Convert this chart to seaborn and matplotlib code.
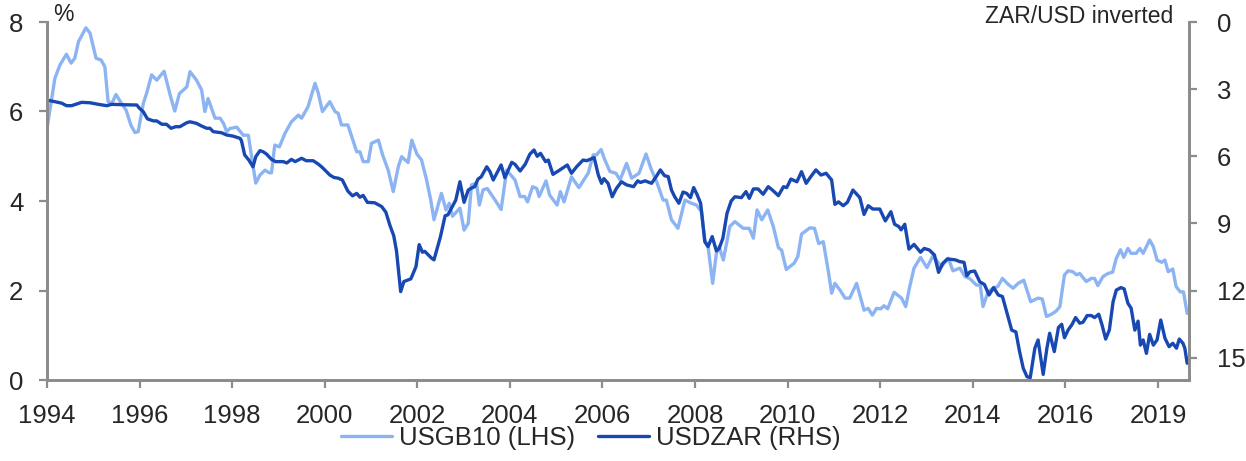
import matplotlib
matplotlib.use("Agg")
import matplotlib.pyplot as plt
import seaborn as sns
import pandas as pd

# US 10-year Treasury yield, % (left axis)
gb_year = [1994.00, 1994.17, 1994.28, 1994.42, 1994.52, 1994.60, 1994.68, 1994.84, 1994.93, 1995.06,
           1995.17, 1995.25, 1995.32, 1995.40, 1995.49, 1995.61, 1995.71, 1995.81, 1995.90, 1995.97,
           1996.08, 1996.15, 1996.26, 1996.37, 1996.53, 1996.66, 1996.76, 1996.86, 1997.02, 1997.09,
           1997.23, 1997.34, 1997.41, 1997.48, 1997.63, 1997.74, 1997.82, 1997.88, 1997.95, 1998.10,
           1998.24, 1998.35, 1998.42, 1998.51, 1998.60, 1998.71, 1998.80, 1998.85, 1998.92, 1999.02,
           1999.14, 1999.28, 1999.43, 1999.50, 1999.64, 1999.79, 1999.86, 1999.95, 2000.11, 2000.22,
           2000.29, 2000.36, 2000.50, 2000.69, 2000.76, 2000.83, 2000.94, 2001.01, 2001.16, 2001.25,
           2001.37, 2001.48, 2001.59, 2001.66, 2001.80, 2001.88, 2001.99, 2002.09, 2002.20, 2002.29,
           2002.36, 2002.52, 2002.62, 2002.69, 2002.76, 2002.92, 2003.01, 2003.10, 2003.17, 2003.28,
           2003.34, 2003.42, 2003.51, 2003.68, 2003.81, 2003.93, 2004.11, 2004.22, 2004.32, 2004.38,
           2004.49, 2004.58, 2004.63, 2004.78, 2004.86, 2005.02, 2005.09, 2005.17, 2005.33, 2005.49,
           2005.62, 2005.69, 2005.80, 2005.87, 2005.97, 2006.05, 2006.16, 2006.29, 2006.38, 2006.52,
           2006.63, 2006.79, 2006.94, 2007.06, 2007.17, 2007.31, 2007.38, 2007.49, 2007.63, 2007.78,
           2007.92, 2008.03, 2008.14, 2008.21, 2008.28, 2008.38, 2008.46, 2008.52, 2008.61, 2008.75,
           2008.86, 2009.04, 2009.17, 2009.26, 2009.34, 2009.44, 2009.57, 2009.69, 2009.80, 2009.87,
           2009.97, 2010.14, 2010.22, 2010.30, 2010.48, 2010.58, 2010.67, 2010.77, 2010.88, 2010.95,
           2011.02, 2011.13, 2011.24, 2011.34, 2011.49, 2011.56, 2011.65, 2011.74, 2011.83, 2011.92,
           2012.01, 2012.08, 2012.16, 2012.30, 2012.46, 2012.55, 2012.64, 2012.73, 2012.87, 2013.01,
           2013.13, 2013.21, 2013.32, 2013.47, 2013.57, 2013.72, 2013.83, 2013.93, 2014.08, 2014.16,
           2014.22, 2014.33, 2014.43, 2014.54, 2014.64, 2014.74, 2014.87, 2014.98, 2015.10, 2015.25,
           2015.41, 2015.50, 2015.59, 2015.70, 2015.80, 2015.88, 2015.98, 2016.06, 2016.16, 2016.24,
           2016.31, 2016.45, 2016.56, 2016.63, 2016.70, 2016.81, 2016.92, 2017.02, 2017.10, 2017.19,
           2017.26, 2017.35, 2017.42, 2017.53, 2017.61, 2017.68, 2017.82, 2017.90, 2017.98, 2018.08,
           2018.15, 2018.22, 2018.32, 2018.39, 2018.48, 2018.55, 2018.63]
gb_val = [5.62, 6.74, 7.04, 7.28, 7.08, 7.19, 7.56, 7.87, 7.75, 7.19,
          7.15, 7.00, 6.22, 6.18, 6.38, 6.18, 6.03, 5.70, 5.53, 5.55,
          6.18, 6.40, 6.82, 6.70, 6.90, 6.37, 6.01, 6.40, 6.55, 6.89,
          6.70, 6.48, 6.00, 6.29, 5.85, 5.85, 5.72, 5.55, 5.62, 5.65,
          5.47, 5.47, 4.99, 4.40, 4.58, 4.69, 4.63, 4.63, 5.25, 5.21,
          5.51, 5.77, 5.92, 5.85, 6.11, 6.63, 6.41, 6.00, 6.22, 6.00,
          5.96, 5.70, 5.70, 5.10, 5.10, 4.88, 4.88, 5.29, 5.36, 5.03,
          4.69, 4.21, 4.77, 4.99, 4.86, 5.36, 5.05, 4.92, 4.47, 4.02,
          3.58, 4.17, 3.80, 3.95, 3.66, 3.84, 3.35, 3.50, 4.36, 4.40,
          3.91, 4.25, 4.28, 4.02, 3.81, 4.69, 4.47, 4.10, 4.10, 3.98,
          4.32, 4.28, 4.10, 4.45, 4.13, 3.91, 4.21, 3.98, 4.54, 4.30,
          4.51, 4.62, 5.03, 5.03, 5.15, 4.92, 4.66, 4.62, 4.47, 4.84,
          4.51, 4.62, 5.05, 4.69, 4.43, 4.02, 4.02, 3.58, 3.39, 4.02,
          3.95, 3.91, 3.76, 3.13, 2.98, 2.16, 2.83, 2.98, 2.68, 3.43,
          3.54, 3.39, 3.39, 3.17, 3.80, 3.58, 3.80, 3.43, 2.96, 2.90,
          2.47, 2.61, 2.76, 3.26, 3.40, 3.39, 3.05, 3.09, 2.42, 1.94,
          2.16, 2.01, 1.83, 1.83, 2.16, 1.90, 1.56, 1.60, 1.45, 1.60,
          1.59, 1.66, 1.59, 1.96, 1.83, 1.64, 2.10, 2.50, 2.74, 2.51,
          2.76, 2.68, 2.53, 2.72, 2.44, 2.50, 2.31, 2.27, 2.12, 2.12,
          1.64, 1.97, 2.05, 2.09, 2.27, 2.16, 2.05, 2.16, 2.23, 1.75,
          1.83, 1.81, 1.42, 1.47, 1.54, 1.64, 2.35, 2.44, 2.42, 2.35,
          2.38, 2.20, 2.27, 2.27, 2.11, 2.31, 2.38, 2.41, 2.72, 2.91,
          2.74, 2.94, 2.83, 2.83, 2.94, 2.83, 3.13, 2.98, 2.68, 2.63,
          2.68, 2.42, 2.48, 2.09, 1.97, 1.97, 1.49]

# USD/ZAR exchange rate (right axis, inverted)
zar_year = [1994.00, 1994.17, 1994.32, 1994.42, 1994.53, 1994.75, 1994.93, 1995.11, 1995.29, 1995.40,
            1995.70, 1995.94, 1996.00, 1996.08, 1996.17, 1996.30, 1996.37, 1996.48, 1996.58, 1996.68,
            1996.78, 1996.87, 1997.02, 1997.09, 1997.23, 1997.34, 1997.45, 1997.52, 1997.59, 1997.77,
            1997.88, 1998.02, 1998.17, 1998.20, 1998.27, 1998.36, 1998.45, 1998.51, 1998.60, 1998.67,
            1998.74, 1998.85, 1998.94, 1999.10, 1999.18, 1999.28, 1999.36, 1999.50, 1999.60, 1999.75,
            1999.86, 1999.93, 2000.00, 2000.11, 2000.20, 2000.29, 2000.38, 2000.50, 2000.60, 2000.69,
            2000.76, 2000.83, 2000.92, 2001.08, 2001.23, 2001.32, 2001.41, 2001.49, 2001.55, 2001.60,
            2001.64, 2001.71, 2001.86, 2001.97, 2002.04, 2002.11, 2002.16, 2002.31, 2002.36, 2002.50,
            2002.60, 2002.66, 2002.83, 2002.92, 2003.01, 2003.10, 2003.17, 2003.24, 2003.31, 2003.38,
            2003.50, 2003.57, 2003.64, 2003.81, 2003.89, 2004.04, 2004.11, 2004.22, 2004.33, 2004.43,
            2004.52, 2004.59, 2004.66, 2004.77, 2004.83, 2004.93, 2005.08, 2005.24, 2005.33, 2005.44,
            2005.58, 2005.66, 2005.82, 2005.91, 2005.98, 2006.03, 2006.12, 2006.21, 2006.30, 2006.41,
            2006.52, 2006.67, 2006.76, 2006.82, 2006.92, 2007.06, 2007.16, 2007.25, 2007.34, 2007.42,
            2007.49, 2007.56, 2007.65, 2007.74, 2007.82, 2007.90, 2007.97, 2008.04, 2008.12, 2008.21,
            2008.28, 2008.37, 2008.46, 2008.52, 2008.60, 2008.69, 2008.78, 2008.86, 2009.00, 2009.10,
            2009.17, 2009.26, 2009.36, 2009.47, 2009.58, 2009.67, 2009.80, 2009.91, 2009.98, 2010.07,
            2010.20, 2010.30, 2010.40, 2010.50, 2010.61, 2010.72, 2010.83, 2010.95, 2011.02, 2011.10,
            2011.20, 2011.29, 2011.41, 2011.56, 2011.65, 2011.74, 2011.84, 2011.99, 2012.11, 2012.23,
            2012.31, 2012.40, 2012.45, 2012.53, 2012.62, 2012.73, 2012.87, 2012.95, 2013.06, 2013.17,
            2013.26, 2013.35, 2013.45, 2013.62, 2013.72, 2013.81, 2013.87, 2013.94, 2014.04, 2014.15,
            2014.25, 2014.35, 2014.45, 2014.55, 2014.64, 2014.74, 2014.84, 2014.93, 2015.01, 2015.09,
            2015.17, 2015.24, 2015.34, 2015.41, 2015.52, 2015.60, 2015.66, 2015.76, 2015.85, 2015.92,
            2015.98, 2016.06, 2016.14, 2016.22, 2016.31, 2016.38, 2016.47, 2016.56, 2016.63, 2016.72,
            2016.79, 2016.87, 2016.95, 2017.03, 2017.10, 2017.20, 2017.27, 2017.35, 2017.42, 2017.50,
            2017.57, 2017.62, 2017.68, 2017.75, 2017.82, 2017.90, 2017.98, 2018.06, 2018.15, 2018.24,
            2018.32, 2018.40, 2018.46, 2018.54, 2018.58, 2018.63]
zar_val = [3.49, 3.56, 3.63, 3.74, 3.74, 3.59, 3.61, 3.68, 3.74, 3.68,
           3.70, 3.71, 3.86, 4.01, 4.33, 4.42, 4.42, 4.57, 4.57, 4.75,
           4.68, 4.68, 4.50, 4.46, 4.53, 4.65, 4.75, 4.75, 4.90, 4.95,
           5.05, 5.10, 5.20, 5.30, 5.94, 6.17, 6.47, 6.02, 5.75, 5.80,
           5.90, 6.14, 6.24, 6.24, 6.30, 6.14, 6.24, 6.09, 6.20, 6.20,
           6.35, 6.47, 6.61, 6.84, 6.95, 6.98, 7.06, 7.56, 7.77, 7.66,
           7.83, 7.75, 8.06, 8.08, 8.25, 8.50, 9.10, 9.55, 10.23, 11.23,
           12.05, 11.60, 11.48, 10.94, 9.95, 10.29, 10.25, 10.56, 10.63, 9.59,
           8.66, 8.62, 7.96, 7.14, 8.06, 7.51, 7.42, 7.36, 7.02, 6.92,
           6.47, 6.69, 7.06, 6.39, 6.96, 6.27, 6.36, 6.66, 6.36, 5.91,
           5.72, 6.00, 5.87, 6.24, 6.17, 6.81, 6.61, 6.39, 6.76, 6.47,
           6.17, 6.20, 6.06, 6.84, 7.21, 7.00, 7.21, 7.81, 7.44, 7.14,
           7.28, 7.36, 7.10, 7.17, 7.10, 7.21, 6.91, 6.61, 6.87, 6.91,
           7.51, 7.81, 8.10, 7.60, 7.66, 7.85, 7.40, 7.70, 8.10, 9.82,
           10.04, 9.59, 10.23, 10.12, 9.67, 8.55, 8.00, 7.81, 7.85, 7.58,
           7.88, 7.46, 7.46, 7.70, 7.36, 7.51, 7.76, 7.36, 7.40, 7.02,
           7.14, 6.69, 7.21, 6.91, 6.61, 6.84, 6.76, 7.06, 8.15, 8.04,
           8.21, 8.06, 7.51, 7.85, 8.60, 8.21, 8.36, 8.36, 8.89, 8.48,
           9.04, 9.14, 9.29, 9.04, 10.15, 9.94, 10.29, 10.12, 10.19, 10.41,
           11.19, 10.79, 10.59, 10.63, 10.71, 10.74, 11.34, 11.16, 11.13, 11.61,
           11.73, 12.20, 11.87, 12.20, 12.27, 13.02, 13.77, 13.85, 14.73, 15.48,
           15.85, 15.90, 14.58, 14.21, 15.75, 14.58, 13.91, 14.73, 13.65, 13.51,
           14.11, 13.76, 13.53, 13.21, 13.46, 13.42, 13.12, 13.12, 13.21, 13.06,
           13.53, 14.17, 13.76, 12.50, 11.98, 11.87, 11.93, 12.57, 12.79, 13.77,
           13.37, 14.44, 14.21, 14.81, 13.96, 14.44, 14.21, 13.32, 14.13, 14.51,
           14.36, 14.58, 14.17, 14.36, 14.58, 15.25]

x_ticks = [1994, 1996, 1998, 2000, 2002, 2004, 2006, 2008, 2010, 2012, 2014, 2016, 2018]
x_labels = ["1994", "1996", "1998", "2000", "2002", "2004", "2006", "2008", "2010",
            "2012", "2014", "2016", "2019"]
left_ticks = [0, 2, 4, 6, 8]
right_ticks = [0, 3, 6, 9, 12, 15]

gb_df = pd.DataFrame({"year": gb_year, "value": gb_val})
zar_df = pd.DataFrame({"year": zar_year, "value": zar_val})

sns.set_style("white")
plt.rcParams["font.family"] = ["Liberation Sans", "DejaVu Sans"]

LIGHT = "#8DB4F2"
DARK = "#1848B2"
AXIS_GREY = "#8C8C8C"
FS = 18.5
FS_UNIT = 16.5

fig, ax = plt.subplots(figsize=(12.46, 4.61), dpi=100)
fig.subplots_adjust(left=47 / 1246, right=1189 / 1246, top=1 - 22 / 461, bottom=1 - 380 / 461)
ax2 = ax.twinx()

sns.lineplot(data=gb_df, x="year", y="value", ax=ax, color=LIGHT, linewidth=2.4,
             estimator=None, sort=False, label="USGB10 (LHS)", legend=False)
sns.lineplot(data=zar_df, x="year", y="value", ax=ax2, color=DARK, linewidth=2.4,
             estimator=None, sort=False, label="USDZAR (RHS)", legend=False)

ax.set_xlim(1994, 2018.67)
ax.set_ylim(0, 8)
ax2.set_ylim(16, 0)
ax.set_xticks(x_ticks)
ax.set_xticklabels(x_labels)
ax.set_yticks(left_ticks)
ax2.set_yticks(right_ticks)
ax.set_xlabel("")
ax.set_ylabel("")
ax2.set_ylabel("")

for a in (ax, ax2):
    a.spines["top"].set_visible(False)
    for side in ("left", "right", "bottom"):
        a.spines[side].set_color(AXIS_GREY)
        a.spines[side].set_linewidth(2)
    a.grid(False)

ax.tick_params(axis="x", length=6, width=1.6, color=AXIS_GREY, labelsize=FS, pad=11,
               direction="out", bottom=True)
ax.tick_params(axis="y", length=6, width=1.6, color=AXIS_GREY, labelsize=FS, pad=11,
               direction="out", left=True)
ax2.tick_params(axis="y", length=6, width=1.6, color=AXIS_GREY, labelsize=FS, pad=14,
                direction="out", right=True)

ax.text(0.005, 1.022, "%", transform=ax.transAxes, fontsize=FS_UNIT, ha="left", va="center")
ax.text(0.986, 1.014, "ZAR/USD inverted", transform=ax.transAxes, fontsize=FS_UNIT,
        ha="right", va="center")

handles = ax.get_lines()[:1] + ax2.get_lines()[:1]
fig.legend(handles, ["USGB10 (LHS)", "USDZAR (RHS)"], loc="center",
           bbox_to_anchor=(0.474, 0.05), ncol=2, frameon=False, fontsize=FS,
           handlelength=2.0, handletextpad=0.25, columnspacing=0.9)

fig.savefig("out.png", dpi=100)
